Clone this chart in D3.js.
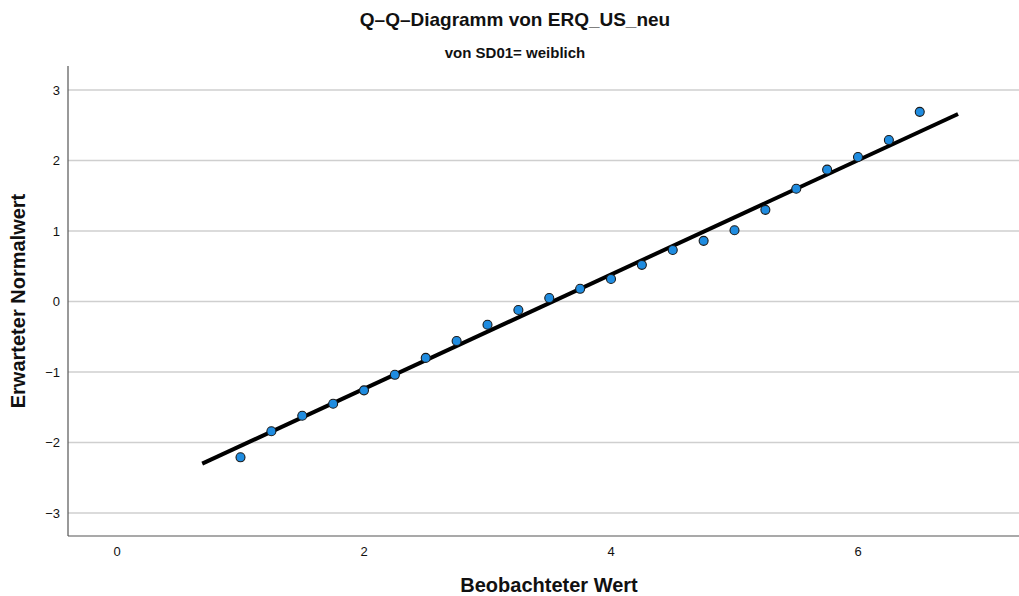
<!DOCTYPE html>
<html>
<head>
<meta charset="utf-8">
<script src="https://cdn.jsdelivr.net/npm/d3@7"></script>
<style>
  body { margin: 0; background: #fff; }
  text { font-family: "Liberation Sans", Arial, sans-serif; fill: #111; }
</style>
</head>
<body>
<div id="chart"></div>
<script>
// observed values (x) and expected normal values (y)
var observed = [1, 1.25, 1.5, 1.75, 2, 2.25, 2.5, 2.75, 3, 3.25, 3.5, 3.75,
                4, 4.25, 4.5, 4.75, 5, 5.25, 5.5, 5.75, 6, 6.25, 6.5];
var expected = [-2.21, -1.84, -1.62, -1.45, -1.26, -1.04, -0.80, -0.56, -0.33, -0.12, 0.05, 0.18,
                0.32, 0.52, 0.73, 0.86, 1.01, 1.30, 1.60, 1.87, 2.05, 2.29, 2.69];
// reference line endpoints
var lineX = [0.69, 6.81];
var lineY = [-2.30, 2.66];
var xTicks = [0, 2, 4, 6];
var yTicks = [-3, -2, -1, 0, 1, 2, 3];

var width = 1019, height = 596;
var plotLeft = 68, plotRight = 1019, plotTop = 66, plotBottom = 536;

var svg = d3.select("#chart").append("svg")
    .attr("width", width)
    .attr("height", height);

var x = d3.scaleLinear().domain([0, 6]).range([117, 858]);
var y = d3.scaleLinear().domain([-3, 3]).range([513, 90]);

// grid lines
svg.append("g").selectAll("line")
    .data(yTicks)
    .enter().append("line")
    .attr("x1", plotLeft)
    .attr("x2", plotRight)
    .attr("y1", function(d) { return y(d); })
    .attr("y2", function(d) { return y(d); })
    .attr("stroke", "#cfcfcf")
    .attr("stroke-width", 1.5);

// axis frame
svg.append("line")
    .attr("x1", plotLeft).attr("x2", plotLeft)
    .attr("y1", plotTop).attr("y2", plotBottom)
    .attr("stroke", "#555").attr("stroke-width", 1.2);
svg.append("line")
    .attr("x1", plotLeft).attr("x2", plotRight)
    .attr("y1", plotBottom).attr("y2", plotBottom)
    .attr("stroke", "#555").attr("stroke-width", 1.2);

// tick labels
svg.append("g").selectAll("text")
    .data(yTicks)
    .enter().append("text")
    .attr("x", 60)
    .attr("y", function(d) { return y(d) + 4.5; })
    .attr("text-anchor", "end")
    .style("font-size", "13px")
    .text(function(d) { return d < 0 ? "\u2212" + Math.abs(d) : d; });

svg.append("g").selectAll("text")
    .data(xTicks)
    .enter().append("text")
    .attr("x", function(d) { return x(d); })
    .attr("y", 556)
    .attr("text-anchor", "middle")
    .style("font-size", "13px")
    .text(function(d) { return d; });

// reference line
svg.append("line")
    .attr("x1", x(lineX[0])).attr("y1", y(lineY[0]))
    .attr("x2", x(lineX[1])).attr("y2", y(lineY[1]))
    .attr("stroke", "#000")
    .attr("stroke-width", 4);

// points
svg.append("g").selectAll("circle")
    .data(observed)
    .enter().append("circle")
    .attr("cx", function(d) { return x(d); })
    .attr("cy", function(d, i) { return y(expected[i]); })
    .attr("r", 4.5)
    .attr("fill", "#1f8ce0")
    .attr("stroke", "#1a1a1a")
    .attr("stroke-width", 1.1);

// titles
svg.append("text")
    .attr("x", 515).attr("y", 26)
    .attr("text-anchor", "middle")
    .style("font-size", "19px").style("font-weight", "bold")
    .text("Q\u2013Q\u2013Diagramm von ERQ_US_neu");

svg.append("text")
    .attr("x", 515).attr("y", 58)
    .attr("text-anchor", "middle")
    .style("font-size", "15px").style("font-weight", "bold")
    .text("von SD01= weiblich");

svg.append("text")
    .attr("x", 549).attr("y", 592)
    .attr("text-anchor", "middle")
    .style("font-size", "20px").style("font-weight", "bold")
    .text("Beobachteter Wert");

svg.append("text")
    .attr("transform", "translate(25,301) rotate(-90)")
    .attr("text-anchor", "middle")
    .style("font-size", "20px").style("font-weight", "bold")
    .text("Erwarteter Normalwert");
</script>
</body>
</html>
